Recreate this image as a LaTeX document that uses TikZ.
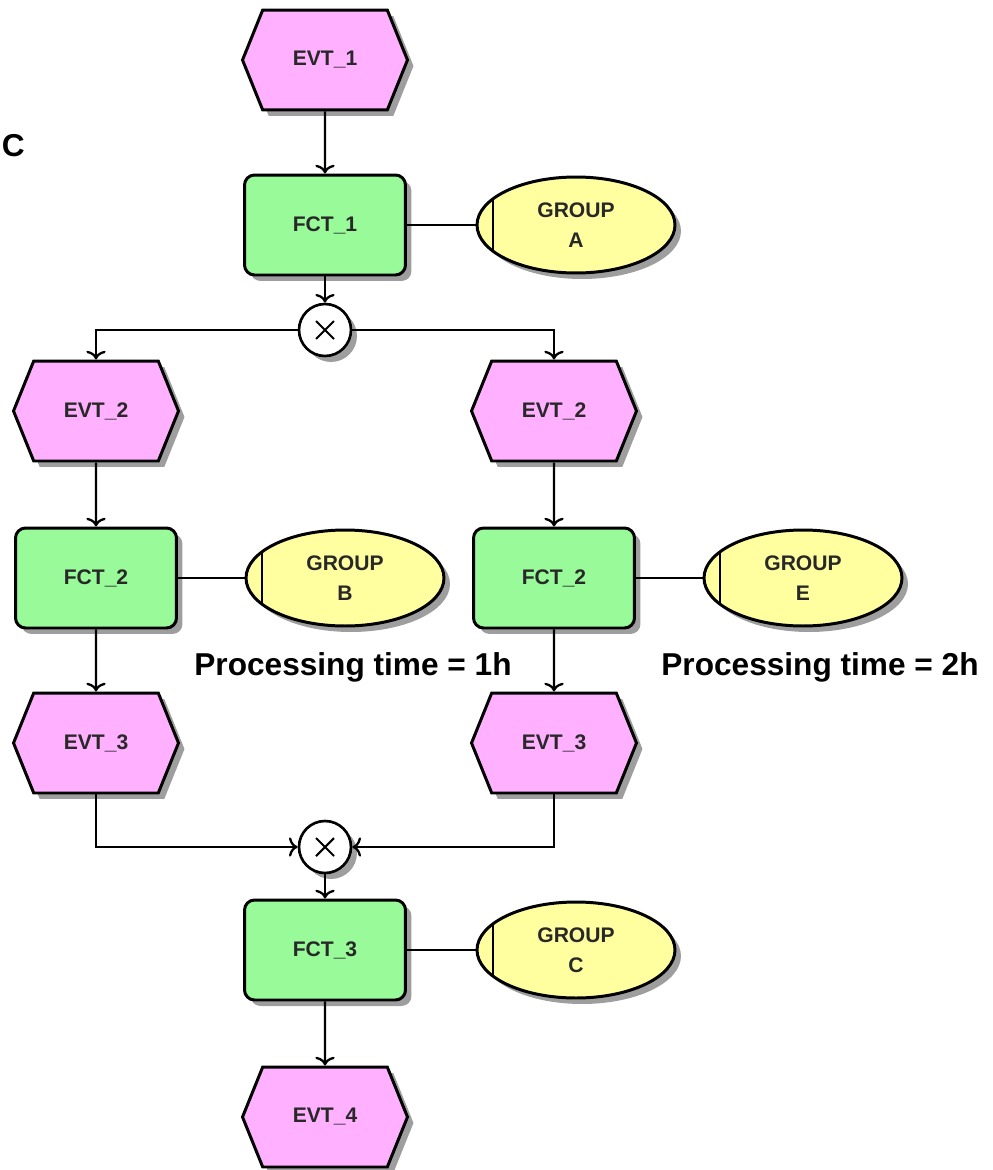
\documentclass[tikz,border=0pt]{standalone}
\usepackage{fontspec}
\setmainfont{Liberation Sans}
\usetikzlibrary{shapes.symbols,shapes.geometric,shadows,arrows.meta}
\definecolor{evtpink}{RGB}{255,176,255}
\definecolor{fctgreen}{RGB}{152,250,152}
\definecolor{grpyellow}{RGB}{255,255,160}
\definecolor{labelgray}{RGB}{40,40,40}
\begin{document}
\begin{tikzpicture}[x=0.02cm,y=-0.02cm,
   >={To[length=5pt,width=11pt]},
   conn/.style={line width=1.3pt},
   shade/.style={drop shadow={shadow xshift=0.12cm,shadow yshift=-0.12cm,fill=black!38,opacity=1}},
   lbl/.style={font=\bfseries\fontsize{12}{17}\selectfont,text=labelgray},
   evt/.style={signal,signal to=west and east,signal pointer angle=136,
      minimum width=3.3cm,minimum height=2cm,inner sep=0pt,
      draw,line width=1.7pt,fill=evtpink,shade,lbl},
   fct/.style={rectangle,rounded corners=0.2cm,minimum width=3.22cm,minimum height=2cm,
      draw,line width=1.7pt,fill=fctgreen,shade,lbl},
   grp/.style={ellipse,minimum width=3.96cm,minimum height=1.92cm,inner sep=0pt,
      draw,line width=1.7pt,fill=grpyellow,shade,lbl,align=center,
      path picture={\draw[line width=1.4pt]
         ([xshift=0.32cm]path picture bounding box.south west) --
         ([xshift=0.32cm]path picture bounding box.north west);}},
   xor/.style={circle,minimum size=1.04cm,inner sep=0pt,draw,line width=1.5pt,fill=white,shade,
      path picture={\draw[line width=1.2pt]
         ([shift={(-0.18cm,-0.18cm)}]path picture bounding box.center) --
         ([shift={(0.18cm,0.18cm)}]path picture bounding box.center)
         ([shift={(-0.18cm,0.18cm)}]path picture bounding box.center) --
         ([shift={(0.18cm,-0.18cm)}]path picture bounding box.center);}},
   note/.style={font=\bfseries\fontsize{18}{20}\selectfont,anchor=base}]
\useasboundingbox (0,0) rectangle (992,1170);

\node[font=\bfseries\fontsize{18}{20}\selectfont,inner sep=0pt,anchor=east] (t0) at (25,146) {C};

\node[evt] (e1) at (325,60) {EVT\_1};
\node[fct] (f1) at (325,225) {FCT\_1};
\node[grp] (gA) at (576,225) {GROUP\\A};
\node[xor] (x1) at (325,330) {};

\node[evt] (e2l) at (96,411) {EVT\_2};
\node[evt] (e2r) at (554,411) {EVT\_2};
\node[fct] (f2l) at (96,578) {FCT\_2};
\node[fct] (f2r) at (554,578) {FCT\_2};
\node[grp] (gB) at (345,578) {GROUP\\B};
\node[grp] (gE) at (803,578) {GROUP\\E};
\node[note] (n1) at (353,675) {Processing time = 1h};
\node[note] (n2) at (820,675) {Processing time = 2h};
\node[evt] (e3l) at (96,743) {EVT\_3};
\node[evt] (e3r) at (554,743) {EVT\_3};

\node[xor] (x2) at (325,847) {};
\node[fct] (f3) at (325,950) {FCT\_3};
\node[grp] (gC) at (576,950) {GROUP\\C};
\node[evt] (e4) at (325,1117) {EVT\_4};

\draw[conn,->] (e1) -- (f1);
\draw[conn,->] (f1) -- (x1);
\draw[conn,->] (x1.west) -| (e2l.north);
\draw[conn,->] (x1.east) -| (e2r.north);
\draw[conn,->] (e2l) -- (f2l);
\draw[conn,->] (e2r) -- (f2r);
\draw[conn,->] (f2l) -- (e3l);
\draw[conn,->] (f2r) -- (e3r);
\draw[conn,->] (e3l.south) |- (x2.west);
\draw[conn,->] (e3r.south) |- (x2.east);
\draw[conn,->] (x2) -- (f3);
\draw[conn,->] (f3) -- (e4);

\draw[conn] (f1) -- (gA);
\draw[conn] (f2l) -- (gB);
\draw[conn] (f2r) -- (gE);
\draw[conn] (f3) -- (gC);
\end{tikzpicture}
\end{document}
